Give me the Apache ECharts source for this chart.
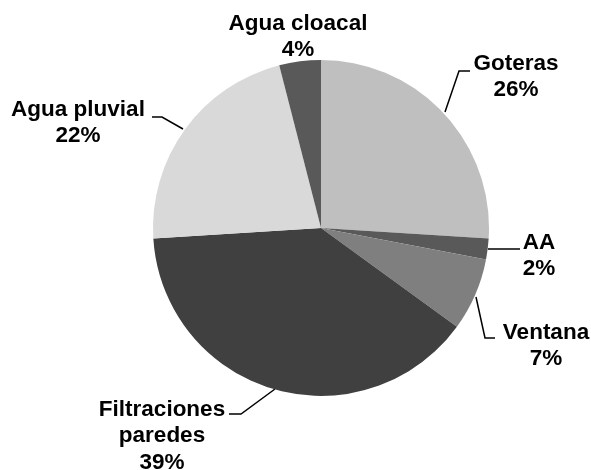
<!DOCTYPE html>
<html>
<head>
<meta charset="utf-8">
<script src="https://cdn.jsdelivr.net/npm/echarts@6/dist/echarts.min.js"></script>
<style>
  html, body { margin: 0; padding: 0; background: #fff; }
  #chart { width: 591px; height: 470px; }
</style>
</head>
<body>
<div id="chart"></div>
<script>
const categories = ['Goteras', 'AA', 'Ventana', 'Filtraciones\nparedes', 'Agua pluvial', 'Agua cloacal']
const values = [26, 2, 7, 39, 22, 4]
const colors = ['#bfbfbf', '#595959', '#7f7f7f', '#404040', '#d9d9d9', '#595959']

// label block centres and leader lines, in pixels
const labelPos = [
  { x: 516, y: 77, line: [[445, 112], [459, 71], [470, 71]] },
  { x: 539, y: 256, line: [[488, 249], [504, 249], [520, 249]] },
  { x: 546, y: 346, line: [[476, 297], [485, 338], [495, 338]] },
  { x: 162, y: 436, line: [[275, 389], [241, 414], [229, 414]] },
  { x: 78, y: 123, line: [[183, 129], [162, 117], [152, 117]] },
  { x: 298, y: 37, line: null },
]

const chart = echarts.init(document.getElementById('chart'))
chart.setOption({
  backgroundColor: '#fff',
  animation: false,
  series: [
    {
      type: 'pie',
      center: [321, 228],
      radius: 168,
      startAngle: 90,
      clockwise: true,
      data: categories.map((c, i) => ({
        name: c,
        value: values[i],
        itemStyle: { color: colors[i] },
        labelLine: { show: !!labelPos[i].line },
      })),
      label: {
        show: true,
        formatter: (p) => p.name + '\n' + p.value + '%',
        fontFamily: 'Liberation Sans, Arial, sans-serif',
        fontWeight: 'bold',
        fontSize: 22.5,
        lineHeight: 26.5,
        color: '#000',
        align: 'center',
        overflow: 'none',
      },
      labelLine: {
        show: true,
        lineStyle: { color: '#000', width: 1.5 },
      },
      labelLayout: (params) => {
        const L = labelPos[params.dataIndex]
        const out = { x: L.x, y: L.y, align: 'center', verticalAlign: 'middle' }
        if (L.line) out.labelLinePoints = L.line
        return out
      },
      emphasis: { disabled: true },
    },
  ],
})
</script>
</body>
</html>
